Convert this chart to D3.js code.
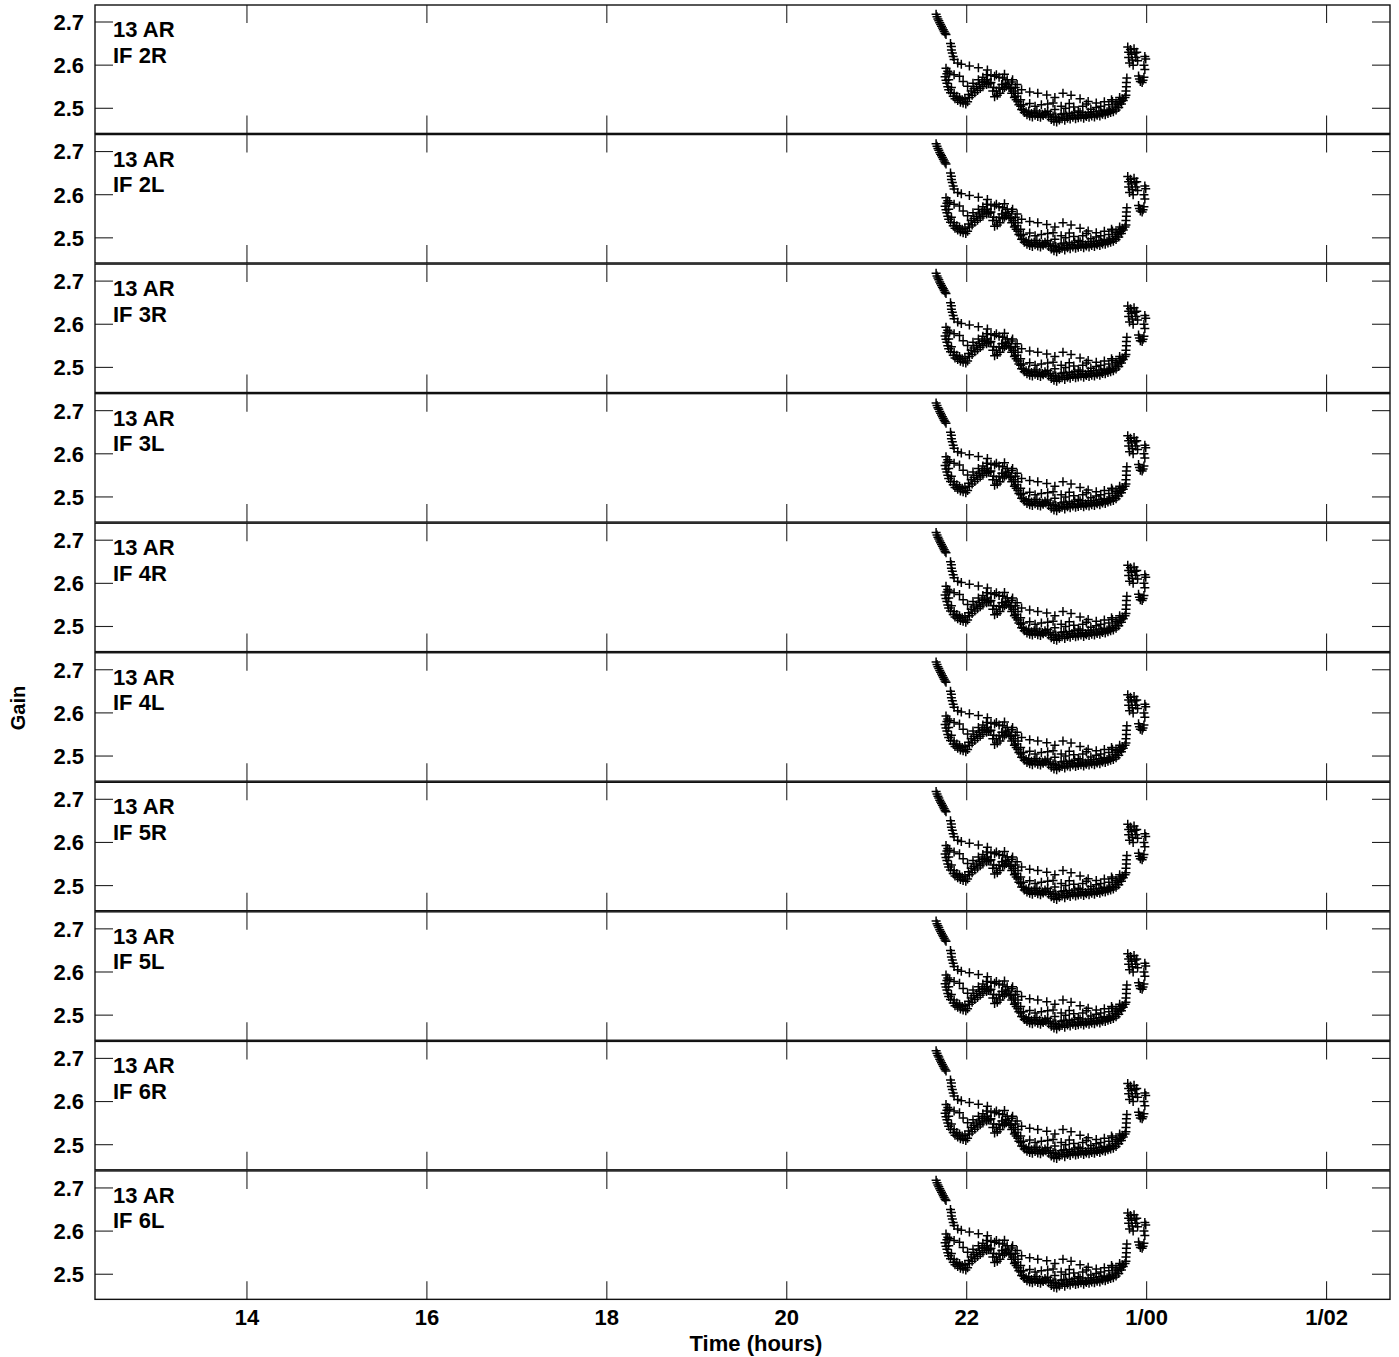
<!DOCTYPE html>
<html lang="en">
<head>
    <meta charset="UTF-8">
    <script src="https://cdn.jsdelivr.net/npm/d3@7"></script>
    <title>13 AR gains</title>
    <style>
        body {
            margin: 0;
            background: white;
        }
        text {
            font-family: "Liberation Sans", Arial, sans-serif;
            font-weight: bold;
            fill: black;
        }
        .frame {
            fill: none;
            stroke: #111;
            stroke-width: 1.4px;
        }
        .tick {
            stroke: #222;
            stroke-width: 1.1px;
        }
        .mark {
            fill: none;
            stroke: black;
            stroke-width: 1.5px;
        }
    </style>
</head>

<body>
    <div id="chart"></div>

    <script>
        // panel names, one panel per IF / polarisation
        const antenna = "13 AR";
        const ifLabels = ["IF 2R", "IF 2L", "IF 3R", "IF 3L", "IF 4R", "IF 4L", "IF 5R", "IF 5L", "IF 6R", "IF 6L"];

        // axis ticks
        const xTicks = [14, 16, 18, 20, 22, 24, 26];
        const xTickLabels = ["14", "16", "18", "20", "22", "1/00", "1/02"];
        const yTicks = [2.5, 2.6, 2.7];

        // [time (hours), gain]
        const seriesHead = [[21.66,2.718],[21.67,2.712],[21.68,2.707],[21.69,2.703],[21.70,2.698],[21.71,2.694],[21.72,2.690],[21.73,2.686],[21.74,2.682],[21.75,2.678],[21.76,2.674],[21.77,2.671],[21.82,2.650],[21.83,2.643],[21.83,2.635],[21.84,2.628],[21.85,2.620],[21.86,2.613]];

        const seriesUpper = [[21.90,2.605],[21.94,2.602],[22.03,2.598],[22.13,2.594],[22.23,2.589],[22.33,2.578],[22.42,2.579],[22.51,2.566],[22.56,2.555],[22.61,2.543],[22.70,2.538],[22.79,2.535],[22.89,2.531],[22.98,2.525],[23.07,2.535],[23.16,2.530],[23.26,2.522],[23.35,2.516],[23.44,2.512],[23.53,2.515],[23.61,2.520],[23.70,2.525],[23.77,2.530],[23.77,2.540],[23.775,2.550],[23.775,2.560],[23.78,2.570]];

        const seriesMiddle = [[21.77,2.593],[21.79,2.586],[21.81,2.582],[21.86,2.578],[21.92,2.574],[21.96,2.562],[22.01,2.551],[22.07,2.558],[22.13,2.566],[22.18,2.572],[22.22,2.578],[22.27,2.576],[22.31,2.574],[22.36,2.572],[22.40,2.570],[22.45,2.566],[22.50,2.561],[22.54,2.548],[22.57,2.535],[22.60,2.520],[22.63,2.508],[22.70,2.511],[22.76,2.505],[22.83,2.508],[22.90,2.510],[22.96,2.512],[22.98,2.497],[23.05,2.505],[23.10,2.500],[23.14,2.511],[23.19,2.503],[23.24,2.494],[23.29,2.505],[23.33,2.510],[23.38,2.498],[23.44,2.502],[23.49,2.505],[23.53,2.494],[23.58,2.508],[23.62,2.516],[23.66,2.512],[23.70,2.520]];

        const seriesLower = [[21.76,2.573],[21.77,2.565],[21.78,2.558],[21.79,2.550],[21.80,2.543],[21.82,2.536],[21.85,2.528],[21.87,2.522],[21.90,2.518],[21.93,2.514],[21.96,2.512],[21.99,2.510],[22.01,2.515],[22.03,2.525],[22.06,2.530],[22.09,2.536],[22.12,2.541],[22.15,2.546],[22.18,2.550],[22.22,2.555],[22.24,2.557],[22.26,2.559],[22.29,2.540],[22.31,2.527],[22.34,2.530],[22.37,2.535],[22.40,2.544],[22.42,2.548],[22.44,2.551],[22.47,2.548],[22.50,2.535],[22.53,2.525],[22.55,2.520],[22.58,2.508],[22.61,2.497],[22.64,2.490],[22.67,2.485],[22.70,2.482],[22.73,2.480],[22.76,2.484],[22.79,2.481],[22.82,2.479],[22.85,2.483],[22.88,2.486],[22.91,2.480],[22.94,2.474],[22.97,2.470],[23.00,2.468],[23.03,2.473],[23.06,2.476],[23.09,2.472],[23.12,2.477],[23.15,2.475],[23.18,2.479],[23.21,2.476],[23.24,2.478],[23.27,2.480],[23.30,2.477],[23.33,2.481],[23.36,2.479],[23.39,2.482],[23.42,2.480],[23.45,2.484],[23.48,2.482],[23.51,2.486],[23.54,2.485],[23.57,2.488],[23.60,2.490],[23.63,2.492],[23.66,2.496],[23.69,2.502],[23.72,2.510],[23.74,2.518],[23.76,2.525]];

        const seriesLower2 = [[21.78,2.580],[21.80,2.566],[21.83,2.548],[21.86,2.535],[21.89,2.528],[21.92,2.525],[21.95,2.520],[21.98,2.522],[22.02,2.532],[22.05,2.540],[22.08,2.545],[22.11,2.550],[22.14,2.555],[22.17,2.560],[22.20,2.562],[22.23,2.566],[22.27,2.560],[22.30,2.548],[22.33,2.540],[22.36,2.547],[22.39,2.555],[22.43,2.558],[22.46,2.556],[22.49,2.545],[22.52,2.540],[22.54,2.528],[22.57,2.515],[22.60,2.505],[22.63,2.496],[22.66,2.492],[22.69,2.494],[22.72,2.488],[22.75,2.490],[22.78,2.494],[22.81,2.488],[22.84,2.486],[22.87,2.490],[22.90,2.493],[22.93,2.486],[22.96,2.482],[22.99,2.480],[23.02,2.478],[23.05,2.486],[23.08,2.488],[23.11,2.482],[23.14,2.488],[23.17,2.484],[23.20,2.490],[23.23,2.483],[23.26,2.491],[23.29,2.486],[23.32,2.484],[23.35,2.491],[23.38,2.486],[23.41,2.492],[23.44,2.487],[23.47,2.494],[23.50,2.489],[23.53,2.496],[23.56,2.492],[23.59,2.495],[23.62,2.498],[23.65,2.503],[23.68,2.508],[23.71,2.515],[23.73,2.522]];

        const seriesEnd = [[23.79,2.642],[23.80,2.630],[23.80,2.618],[23.81,2.605],[23.82,2.636],[23.83,2.625],[23.84,2.612],[23.85,2.600],[23.86,2.638],[23.87,2.628],[23.88,2.618],[23.89,2.630],[23.90,2.610],[23.91,2.575],[23.92,2.568],[23.93,2.562],[23.95,2.560],[23.96,2.565],[23.97,2.572],[23.97,2.600],[23.98,2.590],[23.98,2.620],[23.99,2.614]];

        const allPoints = [].concat(seriesHead, seriesUpper, seriesMiddle, seriesLower, seriesLower2, seriesEnd);

        const width = 1399, height = 1357;
        const left = 95, right = 1390;
        const firstTop = 5, step = 129.55, panelH = 128.4;
        const tickLen = 18;

        const svg = d3.select("#chart").append("svg")
            .attr("width", width)
            .attr("height", height);

        const x = d3.scaleLinear().domain([12.311, 26.705]).range([left, right]);

        ifLabels.forEach((label, i) => {
            const top = firstTop + i * step;
            const bottom = top + panelH;
            const y = d3.scaleLinear().domain([2.4418, 2.7394]).range([bottom, top]);
            const g = svg.append("g");

            // x ticks, top and bottom, pointing inward
            xTicks.forEach(t => {
                g.append("line").attr("class", "tick")
                    .attr("x1", x(t)).attr("x2", x(t))
                    .attr("y1", top).attr("y2", top + tickLen);
                g.append("line").attr("class", "tick")
                    .attr("x1", x(t)).attr("x2", x(t))
                    .attr("y1", bottom).attr("y2", bottom - tickLen);
            });

            // y ticks, left and right
            yTicks.forEach(v => {
                g.append("line").attr("class", "tick")
                    .attr("x1", left).attr("x2", left + tickLen)
                    .attr("y1", y(v)).attr("y2", y(v));
                g.append("line").attr("class", "tick")
                    .attr("x1", right).attr("x2", right - tickLen)
                    .attr("y1", y(v)).attr("y2", y(v));
                g.append("text")
                    .attr("x", 84).attr("y", y(v))
                    .attr("dy", "0.36em")
                    .attr("text-anchor", "end")
                    .style("font-size", "22px")
                    .text(d3.format(".1f")(v));
            });

            g.append("rect").attr("class", "frame")
                .attr("x", left).attr("y", top)
                .attr("width", right - left).attr("height", panelH);

            g.append("text").attr("x", 113).attr("y", top + 32)
                .style("font-size", "22px").text(antenna);
            g.append("text").attr("x", 113).attr("y", top + 57.5)
                .style("font-size", "22px").text(label);

            g.selectAll("path.mark")
                .data(allPoints)
                .enter().append("path")
                .attr("class", "mark")
                .attr("d", d => {
                    const px = x(d[0]), py = y(d[1]);
                    return `M${px - 4.5},${py}H${px + 4.5}M${px},${py - 4.5}V${py + 4.5}`;
                });
        });

        const lastBottom = firstTop + (ifLabels.length - 1) * step + panelH;

        svg.selectAll("text.xlab")
            .data(xTicks)
            .enter().append("text")
            .attr("class", "xlab")
            .attr("x", d => x(d))
            .attr("y", lastBottom + 26)
            .attr("text-anchor", "middle")
            .style("font-size", "22px")
            .text((d, i) => xTickLabels[i]);

        svg.append("text")
            .attr("x", 756).attr("y", 1351)
            .attr("text-anchor", "middle")
            .style("font-size", "22px")
            .text("Time (hours)");

        svg.append("text")
            .attr("transform", "translate(25,708) rotate(-90)")
            .attr("text-anchor", "middle")
            .style("font-size", "20px")
            .text("Gain");
    </script>
</body>
</html>
